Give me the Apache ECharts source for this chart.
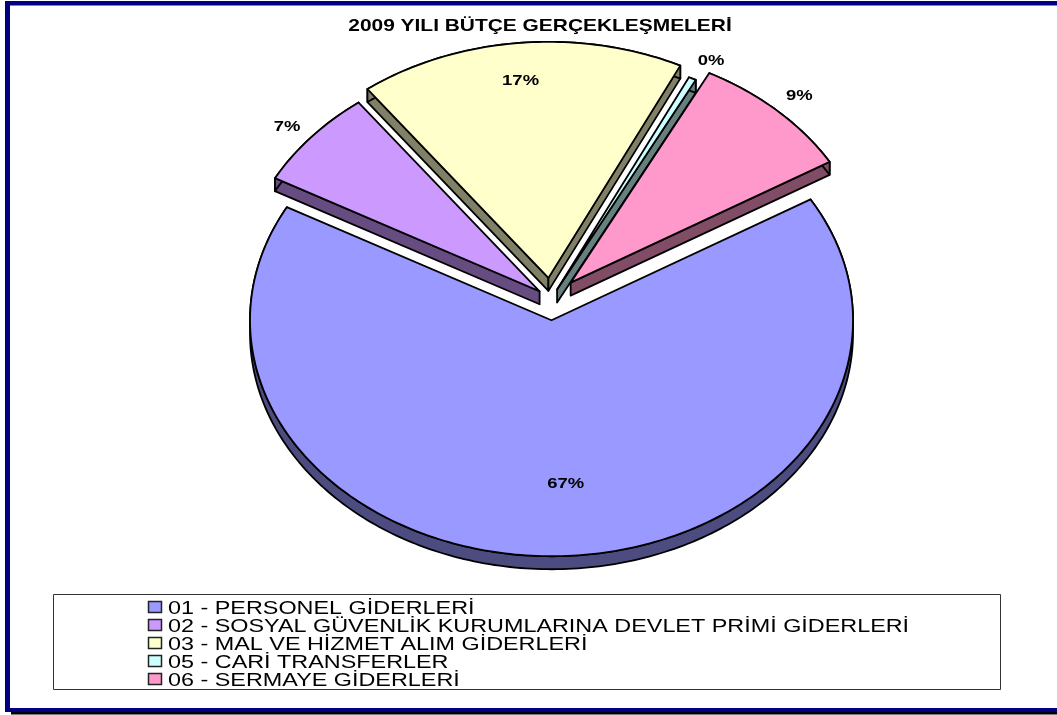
<!DOCTYPE html>
<html>
<head>
<meta charset="utf-8">
<title>2009 YILI BÜTÇE GERÇEKLEŞMELERİ</title>
<script src="https://cdn.jsdelivr.net/npm/echarts@6/dist/echarts.min.js"></script>
<style>
html,body{margin:0;padding:0;background:#fff;}
#main{width:1057px;height:715px;}
</style>
</head>
<body>
<div id="main"></div>
<script>
//kalemler
var categories = ['01 - PERSONEL GİDERLERİ','02 - SOSYAL GÜVENLİK KURUMLARINA DEVLET PRİMİ GİDERLERİ','03 - MAL VE HİZMET ALIM GİDERLERİ','05 - CARİ TRANSFERLER','06 - SERMAYE GİDERLERİ'];
//yuzde degerleri
var values = [66.51,6.8,17.45,0.4,8.84];
var colors = ['#9999FF','#CC99FF','#FFFFCC','#CCFFFF','#FF99CC'];
var sideColors = ['#4C4C80','#664C80','#808066','#668080','#804C66'];

//dilim ayarlari
var explodes = [0.09,0.05,0.09,0.045,0.095];
var labelDist = [0.69,1.095,0.845,1.10,1.10];
var labelAngle = [-2.8,-0.8,-0.8,1,0.3];

//elips pasta ayarlari
var centerX = 551, centerY = 299;
var radiusX = 301.5, radiusY = 236;
var depth = 13;
var startAngle = 59.2;
var lineW = 1.8;
//resimdeki yazilar yatayda genis
var stretchX = 1.23;

var total = 0;
for(var i = 0; i < values.length; i++){
	total += values[i];
}

//saat yonunde, tepeden aci
function pointAt(cx,cy,angle,dist){
	var rad = angle * Math.PI / 180;
	return [cx + radiusX * dist * Math.sin(rad), cy - radiusY * dist * Math.cos(rad)];
}

function renderSlice(params,api){
	var idx = params.seriesIndex;
	var from = startAngle;
	for(var i = 0; i < idx; i++){
		from += values[i] / total * 360;
	}
	var to = from + values[idx] / total * 360;
	var mid = (from + to) / 2;
	var apex = pointAt(centerX,centerY,mid,explodes[idx]);
	var arc = [];
	var steps = Math.max(2,Math.ceil(to - from));
	for(var s = 0; s <= steps; s++){
		arc.push(pointAt(apex[0],apex[1],from + (to - from) * s / steps,1));
	}
	var down = function(p){ return [p[0],p[1] + depth]; };
	var sideStyle = {fill:sideColors[idx],stroke:'#000',lineWidth:lineW,lineJoin:'round'};
	var first = arc[0], last = arc[arc.length - 1];
	var children = [];
	//sadece one bakan yan yuzler
	if(Math.sin(from * Math.PI / 180) < 0){
		children.push({type:'polygon',shape:{points:[apex,first,down(first),down(apex)]},style:sideStyle});
	}
	if(Math.sin(to * Math.PI / 180) > 0){
		children.push({type:'polygon',shape:{points:[apex,last,down(last),down(apex)]},style:sideStyle});
	}
	children.push({type:'polygon',shape:{points:arc.concat(arc.slice().reverse().map(down))},style:sideStyle});
	children.push({type:'polygon',shape:{points:[apex].concat(arc)},style:{fill:colors[idx],stroke:'#000',lineWidth:lineW,lineJoin:'round'}});
	var labelPos = pointAt(apex[0],apex[1],mid + labelAngle[idx],labelDist[idx]);
	children.push({
		type:'text',x:labelPos[0],y:labelPos[1] + 1.5,scaleX:stretchX,
		style:{
			text:Math.round(values[idx] / total * 100) + '%',
			textAlign:'center',textVerticalAlign:'middle',
			font:'bold 15px "Liberation Sans"',fill:'#000'
		}
	});
	return {type:'group',children:children};
}

var seriesArray = [];
for(var k = 0; k < categories.length; k++){
	seriesArray.push({
		name:categories[k],
		type:'custom',
		coordinateSystem:'none',
		silent:true,
		renderItem:renderSlice,
		data:[values[k]]
	});
}

//cerceve
var graphics = [
	{type:'rect',silent:true,shape:{x:5,y:1,width:1052,height:4.5},style:{fill:'#000080'}},
	{type:'rect',silent:true,shape:{x:5,y:1,width:5,height:711},style:{fill:'#000080'}},
	{type:'rect',silent:true,shape:{x:5,y:708,width:1052,height:4},style:{fill:'#000080'}},
	{type:'rect',silent:true,shape:{x:11,y:712,width:1046,height:2.5},style:{fill:'#000'}},
	{type:'rect',silent:true,shape:{x:53.5,y:594.5,width:947,height:95},style:{fill:'#fff',stroke:'#333',lineWidth:1}},
	{type:'text',silent:true,x:540,y:26,scaleX:stretchX,style:{
		text:'2009 YILI BÜTÇE GERÇEKLEŞMELERİ',textAlign:'center',textVerticalAlign:'middle',
		font:'bold 17px "Liberation Sans"',fill:'#000'
	}}
];
//lejant
for(var n = 0; n < categories.length; n++){
	var rowY = 607 + n * 18;
	graphics.push({type:'rect',silent:true,shape:{x:148.5,y:rowY - 5.5,width:13,height:11},style:{fill:colors[n],stroke:'#222',lineWidth:1.5}});
	graphics.push({type:'text',silent:true,x:168,y:rowY + 1.5,scaleX:stretchX,style:{
		text:categories[n],textAlign:'left',textVerticalAlign:'middle',
		font:'19px "Liberation Sans"',fill:'#000'
	}});
}

var myChart = echarts.init(document.getElementById('main'));
myChart.setOption({
	animation:false,
	backgroundColor:'#fff',
	graphic:graphics,
	series:seriesArray
});
</script>
</body>
</html>
